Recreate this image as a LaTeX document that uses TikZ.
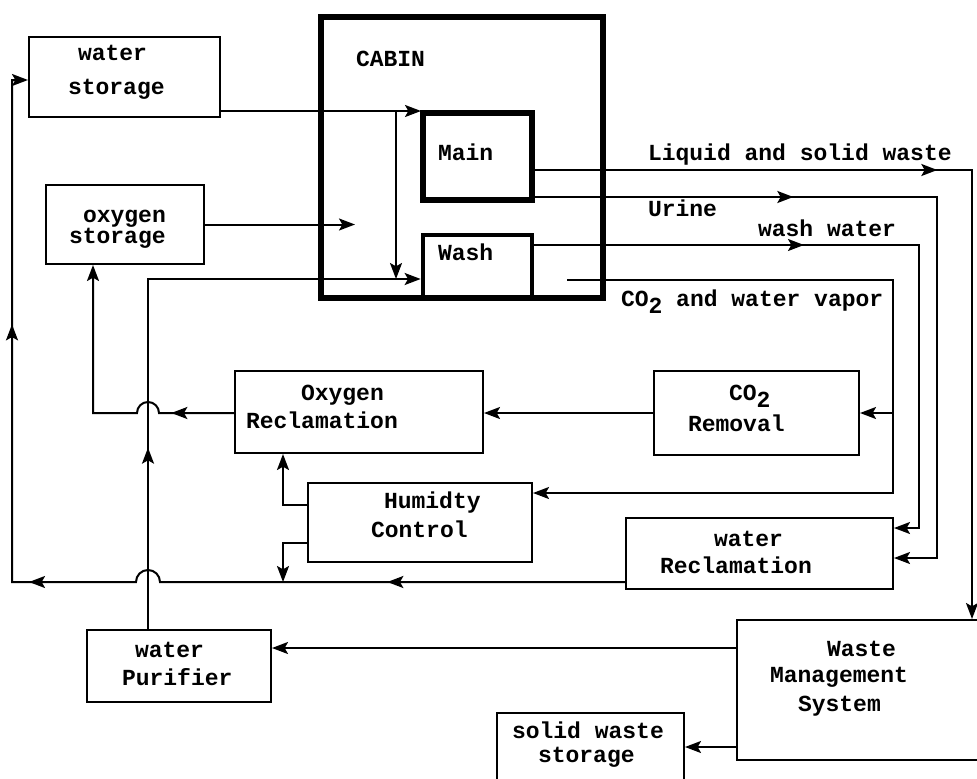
\documentclass[tikz,border=0pt]{standalone}
\usepackage{fontspec}
\setmonofont{Liberation Mono}
\usetikzlibrary{arrows.meta,decorations.markings,fit}
\begin{document}
\begin{tikzpicture}[x=0.75pt,y=-0.75pt,
  line width=1.5pt,
  box/.style={draw, line width=1.5pt, inner sep=0pt},
  lbl/.style={font=\ttfamily\bfseries\fontsize{17.25}{20}\selectfont, inner sep=0pt, anchor=base west},
  tip/.style={-{Stealth[length=12pt,width=9pt,inset=2.5pt]}},
  marr/.style={postaction={decorate,decoration={markings,mark=at position #1 with {\arrow{Stealth[length=12pt,width=9pt,inset=2.5pt]}}}}},
]
\useasboundingbox (0,0) rectangle (977,778);
\clip (0,0) rectangle (977,778);

% ---- boxes ----
\node[box, fit={(29,37)(220,117)}] (ws) {};
\node[box, fit={(46,185)(204,264)}] (os) {};
\node[box, line width=5pt, fit={(321,17)(603,298)}] (cabin) {};
\node[box, line width=4.5pt, fit={(423,113)(532,200)}] (main) {};
\node[box, line width=3.5pt, fit={(423,235)(532,298)}] (wash) {};
\node[box, fit={(235,371)(483,453)}] (oxrec) {};
\node[box, fit={(654,371)(859,455)}] (co2) {};
\node[box, fit={(308,483)(532,562)}] (hum) {};
\node[box, fit={(626,518)(893,589)}] (wrec) {};
\node[box, fit={(737,620)(995,760)}] (wms) {};
\node[box, fit={(87,630)(271,702)}] (pur) {};
\node[box, fit={(497,713)(684,800)}] (sws) {};

% ---- texts ----
\node[lbl] (t-ws1) at (77,60) {water};
\node[lbl] (t-ws2) at (67,94) {storage};
\node[lbl] (t-os1) at (82,222) {oxygen};
\node[lbl] (t-os2) at (68,243) {storage};
\node[lbl] (t-cab) at (355,66) {CABIN};
\node[lbl] (t-main) at (437,160) {Main};
\node[lbl] (t-wash) at (437,260) {Wash};
\node[lbl] (t-liq) at (647,160) {Liquid and solid waste};
\node[lbl] (t-ur) at (647,216) {Urine};
\node[lbl] (t-ww) at (757,236) {wash water};
\node[lbl] (t-cv) at (620,306) {CO\raisebox{-0.6ex}{2} and water vapor};
\node[lbl] (t-ox1) at (300,400) {Oxygen};
\node[lbl] (t-ox2) at (245,428) {Reclamation};
\node[lbl] (t-co1) at (728,400) {CO\raisebox{-0.6ex}{2}};
\node[lbl] (t-co2) at (687,431) {Removal};
\node[lbl] (t-hu1) at (383,508) {Humidty};
\node[lbl] (t-hu2) at (370,537) {Control};
\node[lbl] (t-wr1) at (713,546) {water};
\node[lbl] (t-wr2) at (659,573) {Reclamation};
\node[lbl] (t-wm1) at (826,656) {Waste};
\node[lbl] (t-wm2) at (769,682) {Management};
\node[lbl] (t-wm3) at (797,711) {System};
\node[lbl] (t-pu1) at (134,657) {water};
\node[lbl] (t-pu2) at (121,685) {Purifier};
\node[lbl] (t-sw1) at (511,738) {solid waste};
\node[lbl] (t-sw2) at (537,762) {storage};

% ---- coordinates ----
\coordinate (a0) at (220,111);
\coordinate (a1) at (421,111);
\coordinate (j1) at (396,111);
\coordinate (pw) at (148,279);
\coordinate (o2in) at (355,224);
\coordinate (ob) at (93,413);
\coordinate (c0) at (567,280);
\coordinate (c1) at (893,280);
\coordinate (c2) at (893,493);
\coordinate (h1) at (283,505);
\coordinate (h2) at (283,543);
\coordinate (b0) at (626,582);
\coordinate (b1) at (12,582);
\coordinate (b2) at (12,80);
\coordinate (l0) at (532,170);
\coordinate (l1) at (972,170);
\coordinate (u0) at (532,197);
\coordinate (u1) at (937,197);
\coordinate (u2) at (937,558);
\coordinate (w0) at (532,245);
\coordinate (w1) at (919,245);
\coordinate (w2) at (919,528);
\coordinate (p1) at (737,648);
\coordinate (s1) at (737,747);

% ---- connectors ----
\draw[tip] (a0) -- (a1);
\draw[tip] (j1) -- (j1 |- pw);
\draw[tip] (os.east) -- (os.east -| o2in);
\draw[tip, marr=136pt] (pw |- pur.north) -- (pw) -- (pw -| wash.west);
\draw[tip, marr=47pt] (oxrec.west |- ob) -- (159,413)
   arc[start angle=0, end angle=180, radius=8.25pt] -- (ob) -- (ob |- os.south);
\draw[tip] (co2.west) -- (co2.west -| oxrec.east);
\draw[tip] (c0) -- (c1) -- (c2) -- (c2 -| hum.east);
\draw[tip] (c1 |- co2.east) -- (co2.east);
\draw[tip] (h1 -| hum.west) -- (h1) -- (h1 |- oxrec.south);
\draw[tip] (h2 -| hum.west) -- (h2) -- (h2 |- b0);
\draw[tip, marr=179pt, marr=458pt, marr=664pt] (b0) -- (160,582)
   arc[start angle=0, end angle=180, radius=9pt] -- (b1) -- (b2) -- (b2 -| ws.west);
\draw[tip, marr=304pt] (l0) -- (l1) -- (l1 |- wms.north);
\draw[tip, marr=196pt] (u0) -- (u1) -- (u2) -- (u2 -| wrec.east);
\draw[tip, marr=204pt] (w0) -- (w1) -- (w2) -- (w2 -| wrec.east);
\draw[tip] (p1) -- (p1 -| pur.east);
\draw[tip] (s1) -- (s1 -| sws.east);
\end{tikzpicture}
\end{document}
